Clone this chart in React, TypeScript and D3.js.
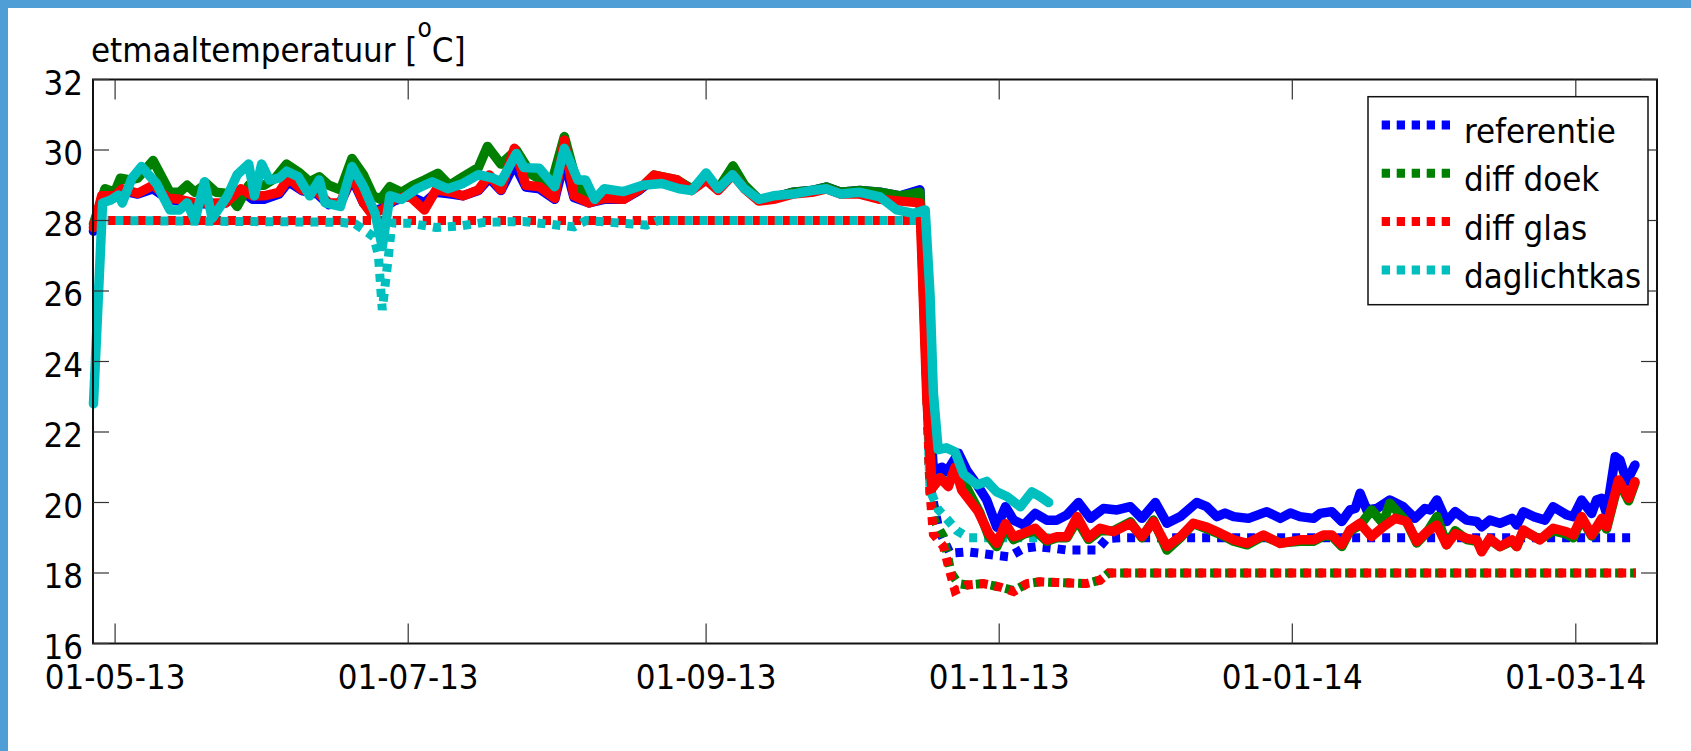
import { useEffect, useRef } from "react";
import * as d3 from "d3";

// x = days after 01-05-2013, y = daily mean temperature [°C]
const DAY_ZERO = new Date(2013, 4, 1);
const X_DOMAIN = [-4.6, 320.9];
const Y_TICKS = [16, 18, 20, 22, 24, 26, 28, 30, 32];

// measured (solid lines)
const referentie: [number, number][] = [
  [-4.5, 27.7], [-2.8, 28.6], [-0.1, 28.65], [1.5, 28.85], [4.7, 28.75], [7.9, 28.9], [11.1, 28.6],
  [13.4, 28.55], [16.6, 28.5], [19.8, 28.45], [23, 28.5], [26.2, 28.85], [28.6, 28.6], [31, 28.6],
  [34.1, 28.75], [36.1, 29.1], [38.9, 28.85], [42.1, 28.75], [44.5, 28.45], [46.9, 28.5], [49.3, 29.2],
  [51.7, 28.5], [53.3, 28.25], [55.6, 28.35], [58, 28.55], [61.2, 28.7], [64.4, 28.5], [66.8, 28.8],
  [70, 28.75], [72.4, 28.7], [75.6, 28.85], [77.9, 29.2], [80.3, 28.85], [83.1, 29.6], [85.5, 28.95],
  [88.3, 28.9], [91.5, 28.6], [93.5, 29.7], [95.5, 28.65], [98.6, 28.5], [101.8, 28.6], [105.8, 28.6],
  [109, 28.85], [112.2, 29.2], [117, 29.1], [120, 28.9], [123, 29.15], [125.5, 28.9], [128.6, 29.3],
  [131, 28.95], [134, 28.6], [137, 28.65], [141, 28.8], [145, 28.85], [148, 28.95], [151, 28.8],
  [155, 28.85], [159.2, 28.8], [163.4, 28.7], [167.5, 28.87], [168.9, 24], [170.3, 20.9], [172.1, 21.0],
  [173.1, 20.87], [175.5, 21.4], [177.3, 20.9], [179.4, 20.5], [181.4, 20.07], [183.5, 19.3],
  [185.3, 19.88], [187, 19.5], [189.1, 19.36], [191.5, 19.69], [193.9, 19.5], [196, 19.5], [198.1, 19.65],
  [200.5, 20.0], [203, 19.55], [205.7, 19.83], [208.5, 19.79], [211.3, 19.88], [213.7, 19.55],
  [216.5, 20.0], [218.9, 19.41], [221.7, 19.6], [225.1, 20.0], [227.2, 19.88], [229.3, 19.6], [231, 19.7],
  [232.8, 19.6], [235.9, 19.55], [239.7, 19.74], [242.5, 19.55], [244.6, 19.7], [246.6, 19.6],
  [249.4, 19.55], [250.8, 19.69], [253.2, 19.74], [255.3, 19.46], [257, 19.79], [258.1, 19.83],
  [259.1, 20.26], [260.5, 19.79], [262.6, 19.83], [265.3, 20.07], [268.1, 19.88], [270.5, 19.55],
  [272.6, 19.83], [273.7, 19.79], [275.1, 20.07], [277.1, 19.46], [278.9, 19.74], [281.3, 19.5],
  [283.4, 19.46], [284.4, 19.31], [286.1, 19.5], [288.2, 19.41], [290.7, 19.55], [291.7, 19.36],
  [293.1, 19.74], [295.2, 19.6], [297.6, 19.5], [299.3, 19.88], [302.1, 19.65], [303.5, 19.6],
  [305.2, 20.07], [307.3, 19.69], [308.3, 20.07], [309.4, 20.12], [310.4, 19.69], [312.2, 21.3],
  [313.2, 21.2], [314.6, 20.59], [316.3, 21.06],
];

const diffDoek: [number, number][] = [
  [-4.5, 27.9], [-2.1, 28.9], [-0.1, 28.8], [1.1, 29.2], [3.1, 29.15], [4.7, 29.2], [7.9, 29.7],
  [11.4, 28.8], [13.4, 28.8], [15, 29.0], [16.6, 28.8], [19, 29.05], [21, 28.8], [23.4, 28.77],
  [25.4, 28.4], [27.8, 29.0], [31, 29.0], [33.3, 29.2], [35.7, 29.6], [38.5, 29.34], [40.5, 29.1],
  [42.5, 29.24], [44.5, 29.0], [46.9, 28.87], [49.3, 29.76], [51.7, 29.29], [53.7, 28.7], [55.2, 28.6],
  [57.2, 28.96], [59.6, 28.8], [62, 29.0], [64.4, 29.15], [67.2, 29.34], [69.6, 29.0], [72.4, 29.24],
  [75.6, 29.5], [77.5, 30.1], [80.3, 29.6], [83.5, 30.0], [86.7, 29.3], [90.7, 29.0], [93.5, 30.38],
  [96.3, 28.96], [99.4, 28.6], [102.6, 28.63], [105.8, 28.7], [109, 28.87], [112.2, 29.29], [117, 29.15],
  [120, 28.9], [123, 29.2], [125.5, 28.9], [128.6, 29.55], [131, 29.0], [134, 28.6], [137, 28.65],
  [141, 28.8], [145, 28.85], [148, 28.95], [151, 28.8], [155, 28.85], [159.2, 28.8], [163.4, 28.7],
  [167.5, 28.8], [168.9, 23.5], [170, 20.4], [171.7, 20.7], [173.4, 20.5], [174.8, 20.95], [177.3, 20.4],
  [180, 19.7], [181.8, 19.05], [183.5, 18.75], [185.3, 19.3], [187, 18.95], [189.1, 19.1], [191.5, 19.2],
  [193.9, 18.9], [196, 19.0], [198.1, 19.0], [200.2, 19.5], [202.6, 18.95], [205, 19.2], [207.8, 19.2],
  [211.3, 19.45], [213.7, 19.0], [216.1, 19.5], [218.9, 18.65], [221.7, 19.0], [224.4, 19.4],
  [227.2, 19.25], [230, 19.1], [232.8, 18.9], [235.6, 18.8], [239, 19.05], [242.5, 18.85], [246.6, 18.9],
  [249.4, 18.9], [251.5, 19.05], [253.2, 19.05], [255.3, 18.75], [257, 19.2], [259.1, 19.35],
  [261.5, 19.79], [263.9, 19.41], [265.3, 19.98], [268.8, 19.45], [270.9, 18.85], [273, 19.15],
  [275.1, 19.6], [277.1, 18.8], [278.9, 19.2], [281.3, 18.95], [283.4, 18.9], [284.4, 18.65],
  [286.1, 18.95], [288.2, 18.75], [290.7, 18.9], [291.7, 18.75], [293.1, 19.2], [296.5, 18.95],
  [299.3, 19.2], [302.1, 19.1], [303.5, 19.0], [305.2, 19.55], [307.3, 19.05], [309.4, 19.5],
  [310.4, 19.25], [312.9, 20.6], [315, 20.05], [316.3, 20.55],
];

const diffGlas: [number, number][] = [
  [-4.5, 27.8], [-2.8, 28.7], [-0.1, 28.7], [1.5, 28.9], [4.7, 28.77], [7.9, 29.0], [11.1, 28.63],
  [13.4, 28.6], [16.6, 28.5], [19.8, 28.5], [23, 28.5], [26.2, 28.9], [28.6, 28.7], [31, 28.7],
  [34.1, 28.8], [36.1, 29.2], [38.9, 28.87], [42.1, 28.8], [44.5, 28.5], [46.9, 28.5], [49.3, 29.29],
  [51.7, 28.5], [53.3, 28.2], [55.6, 28.3], [58, 28.6], [61.2, 28.7], [64.4, 28.3], [66.8, 28.87],
  [70, 28.8], [72.4, 28.7], [75.6, 28.87], [77.9, 29.29], [80.3, 28.87], [83.1, 30.05], [85.5, 29.0],
  [88.3, 28.96], [91.5, 28.63], [93.5, 30.28], [95.5, 28.7], [98.6, 28.5], [101.8, 28.63], [105.8, 28.6],
  [109, 28.87], [112.2, 29.29], [117, 29.15], [120, 28.85], [123, 29.15], [125.5, 28.85], [128.6, 29.3],
  [131, 28.9], [134, 28.55], [137, 28.6], [141, 28.75], [145, 28.8], [148, 28.9], [151, 28.75],
  [155, 28.75], [159.2, 28.6], [163.4, 28.55], [167.5, 28.5], [168.9, 23.1], [170, 20.4], [171.7, 20.7],
  [173.4, 20.45], [174.8, 21.0], [176.2, 20.35], [179.6, 19.75], [181.8, 19.13], [183.5, 18.84],
  [185.3, 19.4], [187, 19.03], [189.1, 19.13], [191.5, 19.27], [193.9, 18.94], [196, 19.03],
  [198.1, 19.03], [200.2, 19.6], [202.6, 19.0], [205, 19.27], [207.8, 19.17], [211.3, 19.41],
  [213.7, 19.03], [216.1, 19.46], [218.9, 18.75], [221.7, 19.03], [224.4, 19.41], [227.2, 19.3],
  [230, 19.13], [232.8, 18.94], [235.6, 18.84], [239, 19.08], [242.5, 18.84], [246.6, 18.94],
  [249.4, 18.94], [251.5, 19.08], [253.2, 19.08], [255.3, 18.8], [257, 19.22], [259.1, 19.41],
  [261.5, 19.03], [263.9, 19.31], [266.4, 19.55], [268.8, 19.46], [270.9, 18.89], [273, 19.17],
  [275.1, 19.36], [277.1, 18.8], [278.9, 19.12], [281.3, 18.98], [283.4, 18.94], [284.4, 18.6],
  [286.1, 18.98], [288.2, 18.75], [290.7, 18.94], [291.7, 18.75], [293.1, 19.22], [296.5, 18.94],
  [299.3, 19.27], [302.1, 19.17], [303.5, 19.08], [305.2, 19.6], [307.3, 19.08], [309.4, 19.55],
  [310.4, 19.31], [312.9, 20.64], [315, 20.12], [316.3, 20.59],
];

const daglichtkas: [number, number][] = [
  [-4.5, 22.8], [-2.6, 28.5], [-0.9, 28.58], [0.7, 28.72], [1.5, 28.5], [3.5, 29.2], [5.5, 29.53],
  [8.6, 29.05], [11.4, 28.3], [13.4, 28.3], [15, 28.5], [16.6, 28.0], [18.6, 29.1], [20.2, 28.06],
  [21.4, 28.3], [23.4, 28.7], [25.4, 29.3], [27.8, 29.6], [29, 28.7], [30.5, 29.6], [32.1, 29.15],
  [34.1, 29.2], [35.7, 29.4], [38.1, 29.24], [40.5, 28.7], [42.5, 29.15], [43.7, 28.5], [46.9, 28.4],
  [49.3, 29.53], [51.7, 28.96], [54.1, 28.2], [55.6, 27.26], [57.2, 28.7], [59.6, 28.6], [62.8, 28.9],
  [66, 29.1], [69.2, 28.9], [72.4, 29.05], [75.6, 29.3], [78.7, 29.2], [80.3, 29.1], [83.5, 29.9],
  [85.1, 29.5], [88.3, 29.48], [91.5, 28.96], [93.5, 30.05], [96.3, 29.15], [97.9, 29.15], [99.8, 28.6],
  [101.8, 28.9], [105.8, 28.82], [109.8, 29.0], [113.8, 29.05], [117.4, 28.9], [120, 28.85],
  [123, 29.35], [125.5, 28.9], [128.5, 29.3], [131, 28.9], [134, 28.6], [137, 28.7], [141, 28.75],
  [145, 28.85], [148, 28.9], [151, 28.75], [155, 28.8], [159.2, 28.67], [162.7, 28.3], [166.1, 28.2],
  [168.6, 28.3], [169.6, 25.9], [170.3, 23.1], [171.3, 21.5], [173, 21.55], [174.8, 21.44],
  [176.6, 20.8], [179.4, 20.5], [181.4, 20.6], [183.5, 20.3], [185.6, 20.17], [188.4, 19.88],
  [190.8, 20.3], [192.5, 20.17], [194.3, 20.0],
];

// setpoints (dotted lines)
const referentieSet: [number, number][] = [
  [-1.5, 28], [167.8, 28], [169.6, 20.5], [171.5, 19.2], [173.8, 18.56], [177.3, 18.6], [180, 18.56],
  [182.8, 18.51], [186, 18.46], [189.1, 18.7], [191.8, 18.75], [195.3, 18.7], [198.1, 18.65],
  [204.3, 18.65], [206.4, 18.98], [209.2, 19.0], [316.5, 19.0],
];

const diffDoekSet: [number, number][] = [
  [-1.5, 28], [167.8, 28], [169.6, 20.3], [170.5, 19.5], [172.4, 19.03], [174, 18.0], [175.5, 17.7],
  [177.3, 17.66], [180.7, 17.7], [184.2, 17.6], [187, 17.5], [189.8, 17.7], [192.5, 17.75], [196, 17.73],
  [202.2, 17.7], [205, 17.8], [206.8, 18.0], [316.5, 18.0],
];

const diffGlasSet: [number, number][] = [
  [-1.5, 28], [167.8, 28], [169.6, 20.26], [170.3, 19.1], [172.4, 18.75], [173.8, 18.0], [174.8, 17.5],
  [177.3, 17.66], [180.7, 17.7], [184.2, 17.6], [187, 17.47], [189.8, 17.7], [192.5, 17.75],
  [196, 17.73], [202.2, 17.7], [205, 17.8], [206.8, 18.0], [316.5, 18.0],
];

const daglichtkasSet: [number, number][] = [
  [-1.5, 28], [47, 27.95], [50, 27.9], [53.8, 27.54], [54.8, 27.02], [55.6, 25.46], [56.9, 27.0],
  [57.6, 27.92], [61.4, 27.92], [66.8, 27.8], [72, 27.85], [77, 27.95], [85, 27.97], [95.5, 27.82],
  [98, 28.0], [110.6, 27.87], [113, 28.0], [167.8, 28], [169.6, 20.35], [171.3, 19.8], [173, 19.55],
  [175.2, 19.2], [177.6, 19.0], [194.5, 19.0],
];

const SERIES = [
  { label: "referentie", color: "#0000ff", measured: referentie, setpoint: referentieSet, offset: 0 },
  { label: "diff doek", color: "#008000", measured: diffDoek, setpoint: diffDoekSet, offset: 0 },
  { label: "diff glas", color: "#ff0000", measured: diffGlas, setpoint: diffGlasSet, offset: 0 },
  { label: "daglichtkas", color: "#00bfbf", measured: daglichtkas, setpoint: daglichtkasSet, offset: 7.5 },
];

const FONT = "'DejaVu Sans Condensed', 'DejaVu Sans', sans-serif";
const FONT_SIZE = 34.5;

function toDate(day: number) {
  return new Date(DAY_ZERO.getTime() + day * 864e5);
}

export default function App() {
  const ref = useRef<SVGSVGElement>(null);

  useEffect(() => {
    const width = 1691;
    const height = 751;
    const plot = { left: 93, right: 1657, top: 79.5, bottom: 643.5 };

    const svg = d3.select(ref.current);
    svg.selectAll("*").remove();

    svg.append("rect").attr("width", width).attr("height", height).attr("fill", "#fff");
    svg.append("rect").attr("width", width).attr("height", 8).attr("fill", "#4f9fd6");
    svg.append("rect").attr("width", 8).attr("height", height).attr("fill", "#4f9fd6");

    const x = d3
      .scaleTime()
      .domain(X_DOMAIN.map(toDate))
      .range([plot.left, plot.right]);

    const y = d3.scaleLinear().domain([16, 32]).range([plot.bottom, plot.top]);

    const line = d3
      .line<[number, number]>()
      .x((d) => x(toDate(d[0])))
      .y((d) => y(d[1]));

    const g = svg.append("g");

    // setpoints first (dotted), measured on top
    SERIES.forEach((s) => {
      g.append("path")
        .datum(s.setpoint)
        .attr("fill", "none")
        .attr("stroke", s.color)
        .attr("stroke-width", 9)
        .attr("stroke-dasharray", "8 7")
        .attr("stroke-dashoffset", s.offset)
        .attr("d", line);
    });

    SERIES.forEach((s) => {
      g.append("path")
        .datum(s.measured)
        .attr("fill", "none")
        .attr("stroke", s.color)
        .attr("stroke-width", 9.5)
        .attr("stroke-linejoin", "round")
        .attr("stroke-linecap", "round")
        .attr("d", line);
    });

    // axes box
    svg
      .append("rect")
      .attr("x", plot.left)
      .attr("y", plot.top)
      .attr("width", plot.right - plot.left)
      .attr("height", plot.bottom - plot.top)
      .attr("fill", "none")
      .attr("stroke", "#111")
      .attr("stroke-width", 2);

    const textStyle = (sel: d3.Selection<SVGTextElement, unknown, null, undefined>) =>
      sel
        .attr("font-family", FONT)
        .attr("font-stretch", "condensed")
        .attr("font-size", FONT_SIZE)
        .attr("fill", "#000");

    const xTicks = x.ticks(d3.timeMonth.every(2)!);
    const fmt = d3.timeFormat("%d-%m-%y");
    xTicks.forEach((t) => {
      const px = x(t);
      svg.append("line").attr("x1", px).attr("x2", px).attr("y1", plot.bottom).attr("y2", plot.bottom - 20)
        .attr("stroke", "#333").attr("stroke-width", 1.2);
      svg.append("line").attr("x1", px).attr("x2", px).attr("y1", plot.top).attr("y2", plot.top + 20)
        .attr("stroke", "#333").attr("stroke-width", 1.2);
      svg.append("text")
        .attr("x", px)
        .attr("y", 689)
        .attr("text-anchor", "middle")
        .call(textStyle)
        .text(fmt(t));
    });

    Y_TICKS.forEach((v) => {
      const py = y(v);
      svg.append("line").attr("x1", plot.left).attr("x2", plot.left + 16).attr("y1", py).attr("y2", py)
        .attr("stroke", "#333").attr("stroke-width", 1.2);
      svg.append("line").attr("x1", plot.right).attr("x2", plot.right - 16).attr("y1", py).attr("y2", py)
        .attr("stroke", "#333").attr("stroke-width", 1.2);
      svg.append("text")
        .attr("x", 83)
        .attr("y", py + 15)
        .attr("text-anchor", "end")
        .call(textStyle)
        .text(v);
    });

    // title
    const title = svg
      .append("text")
      .attr("x", 91)
      .attr("y", 61.7)
      .call(textStyle);
    title.append("tspan").text("etmaaltemperatuur [");
    title.append("tspan").attr("dy", -25).attr("font-size", 26).text("o");
    title.append("tspan").attr("dy", 25).text("C]");

    // legend
    const lg = svg.append("g");
    lg.append("rect")
      .attr("x", 1368)
      .attr("y", 96.7)
      .attr("width", 280)
      .attr("height", 208)
      .attr("fill", "#fff")
      .attr("stroke", "#111")
      .attr("stroke-width", 1.5);
    SERIES.forEach((s, i) => {
      const cy = 125 + i * 48.3;
      lg.append("line")
        .attr("x1", 1381.7)
        .attr("x2", 1450)
        .attr("y1", cy)
        .attr("y2", cy)
        .attr("stroke", s.color)
        .attr("stroke-width", 9)
        .attr("stroke-dasharray", "8.3 6.7");
      lg.append("text")
        .attr("x", 1464)
        .attr("y", cy + 18)
        .call(textStyle)
        .text(s.label);
    });
  }, []);

  return (
    <div style={{ position: "absolute", left: 0, top: 0 }}>
      <svg ref={ref} width={1691} height={751} style={{ display: "block" }} />
    </div>
  );
}
